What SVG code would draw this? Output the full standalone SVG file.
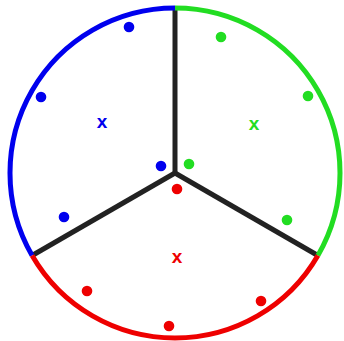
<svg xmlns="http://www.w3.org/2000/svg" width="344" height="341" viewBox="0 0 344 341">
<style>
.arc{fill:none;stroke-width:5}
.sp{stroke:#222;stroke-width:5;stroke-linecap:butt}
.lbl{font-family:"Liberation Sans",Arial,sans-serif;font-weight:bold;font-size:19px;text-anchor:middle}
</style>
<rect width="344" height="341" fill="#fff"/>
<g id="connectors">
<line class="sp" x1="175" y1="173" x2="175" y2="9"/>
<line class="sp" x1="175" y1="173" x2="33" y2="255"/>
<line class="sp" x1="175" y1="173" x2="317" y2="255"/>
</g>
<g id="blue">
<path class="arc" stroke="#0000ee" d="M32.1,255.5 A165,165 0 0 1 175,8"/>
<circle cx="129" cy="27" r="5.3" fill="#0000ee"/>
<circle cx="41" cy="97" r="5.3" fill="#0000ee"/>
<circle cx="161" cy="166" r="5.3" fill="#0000ee"/>
<circle cx="64" cy="217" r="5.3" fill="#0000ee"/>
<text class="lbl" x="102" y="128" fill="#0000ee">x</text>
</g>
<g id="green">
<path class="arc" stroke="#22dd22" d="M175,8 A165,165 0 0 1 317.9,255.5"/>
<circle cx="221" cy="37" r="5.3" fill="#22dd22"/>
<circle cx="308" cy="96" r="5.3" fill="#22dd22"/>
<circle cx="189" cy="164" r="5.3" fill="#22dd22"/>
<circle cx="287" cy="220" r="5.3" fill="#22dd22"/>
<text class="lbl" x="254" y="130" fill="#22dd22">x</text>
</g>
<g id="red">
<path class="arc" stroke="#ee0000" d="M317.9,255.5 A165,165 0 0 1 32.1,255.5"/>
<circle cx="177" cy="189" r="5.3" fill="#ee0000"/>
<circle cx="87" cy="291" r="5.3" fill="#ee0000"/>
<circle cx="261" cy="301" r="5.3" fill="#ee0000"/>
<circle cx="169" cy="326" r="5.3" fill="#ee0000"/>
<text class="lbl" x="177" y="263" fill="#ee0000">x</text>
</g>
</svg>
